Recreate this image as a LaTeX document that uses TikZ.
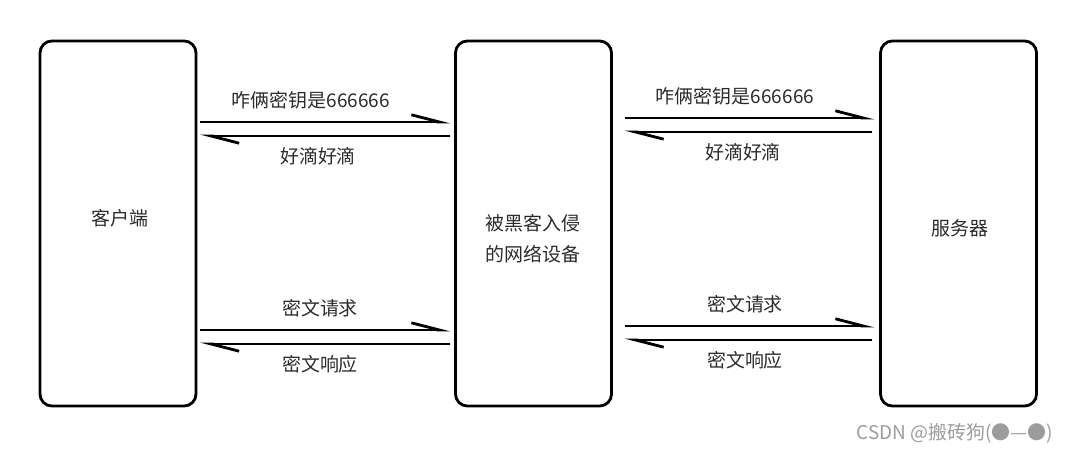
\documentclass[tikz,border=0pt]{standalone}
\usepackage{fontspec}
\setmainfont{Noto Sans CJK SC}
\usetikzlibrary{arrows.meta}
\definecolor{txt}{HTML}{2B2B2B}
\definecolor{wm}{HTML}{9C9C9C}

\begin{document}
\begin{tikzpicture}[x=0.025cm, y=0.025cm,
    caja/.style={draw, line width=2pt, rounded corners=0.3cm, outer sep=0pt,
                 minimum width=3.9cm, minimum height=9.125cm},
    msg/.style={line width=2pt, -{Straight Barb[left, length=0.7cm, width=0.36cm]}},
    lbl/.style={text=txt, font=\fontsize{13.5}{16}\selectfont}]
        \useasboundingbox (0,0) rectangle (1071,-453);

        % Cajas
        \node[caja] (cliente) at (118,-223.5) {};
        \node[caja] (hacker) at (533.5,-223.5) {};
        \node[caja] (servidor) at (958.5,-223.5) {};
        \node[lbl] (tcli) at (120,-218) {客户端};
        \node[lbl, align=center, text depth=0pt] (thack) at (533,-238) {被黑客入侵\\[6pt]的网络设备};
        \node[lbl] (tser) at (960,-228) {服务器};

        % Mensajes arriba
        \draw[msg, shorten <=0.1cm, shorten >=0.125cm] (cliente.east |- 0,-122) -- (hacker.west |- 0,-122);
        \draw[msg, shorten <=0.125cm, shorten >=0.1cm] (hacker.west |- 0,-136) -- (cliente.east |- 0,-136);
        \draw[msg, shorten <=0.325cm, shorten >=0.15cm] (hacker.east |- 0,-118) -- (servidor.west |- 0,-118);
        \draw[msg, shorten <=0.2cm, shorten >=0.325cm] (servidor.west |- 0,-132) -- (hacker.east |- 0,-132);
        \node[lbl] (clave1) at (311,-100) {咋俩密钥是666666};
        \node[lbl] (ok1) at (318,-156) {好滴好滴};
        \node[lbl] (clave2) at (735,-96) {咋俩密钥是666666};
        \node[lbl] (ok2) at (743,-152) {好滴好滴};

        % Mensajes abajo
        \draw[msg, shorten <=0.1cm, shorten >=0.125cm] (cliente.east |- 0,-330) -- (hacker.west |- 0,-330);
        \draw[msg, shorten <=0.125cm, shorten >=0.1cm] (hacker.west |- 0,-344) -- (cliente.east |- 0,-344);
        \draw[msg, shorten <=0.325cm, shorten >=0.15cm] (hacker.east |- 0,-326) -- (servidor.west |- 0,-326);
        \draw[msg, shorten <=0.2cm, shorten >=0.325cm] (servidor.west |- 0,-340) -- (hacker.east |- 0,-340);
        \node[lbl] (pide1) at (320,-308) {密文请求};
        \node[lbl] (resp1) at (320,-364) {密文响应};
        \node[lbl] (pide2) at (745,-304) {密文请求};
        \node[lbl] (resp2) at (745,-360) {密文响应};

        % Marca de agua
        \node[text=wm, font=\fontsize{13.5}{16}\selectfont] (marca) at (955,-433) {CSDN @搬砖狗(●—●)};
    \end{tikzpicture}
\end{document}
